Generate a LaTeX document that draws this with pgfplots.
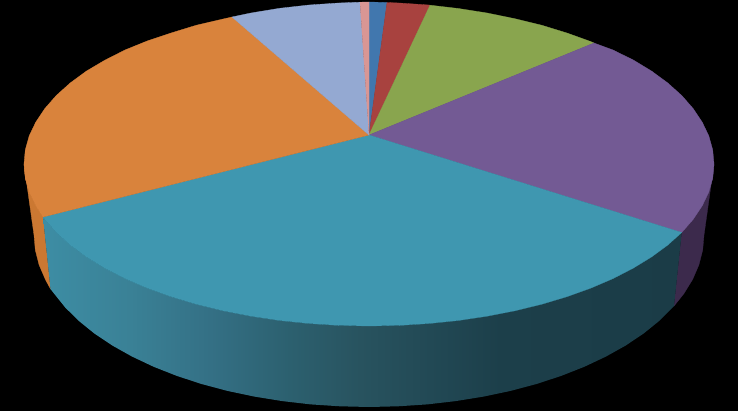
\documentclass[border=0pt]{standalone}
\usepackage{pgfplots}
\pgfplotsset{compat=1.18}
\definecolor{cblue}{HTML}{4177AE}
\definecolor{cred}{HTML}{A8423F}
\definecolor{cgreen}{HTML}{89A54E}
\definecolor{cpurple}{HTML}{735A94}
\definecolor{cteal}{HTML}{3F97B0}
\definecolor{corange}{HTML}{D9833C}
\definecolor{clight}{HTML}{94A9D2}
\definecolor{cpink}{HTML}{D99694}
\definecolor{worange}{HTML}{CB7832}
\definecolor{wpurple}{HTML}{3C2A4C}
\definecolor{wa}{HTML}{3D8DA4}
\definecolor{wb}{HTML}{3A8196}
\definecolor{wc}{HTML}{347085}
\definecolor{wd}{HTML}{2C606F}
\definecolor{we}{HTML}{28535F}
\definecolor{wf}{HTML}{224955}
\definecolor{wg}{HTML}{1C3F4A}
\definecolor{wh}{HTML}{1B3C47}
\pgfdeclarehorizontalshading{wall}{100bp}{color(0bp)=(wa); color(25bp)=(wa); color(31.8bp)=(wb); color(38.1bp)=(wc); color(44.3bp)=(wd); color(49.8bp)=(we); color(55.3bp)=(wf); color(60.8bp)=(wg); color(75bp)=(wh); color(100bp)=(wh)}
\begin{document}
\begin{tikzpicture}
\begin{axis}[scale only axis,width=738pt,height=411pt,xmin=0,xmax=738,ymin=0,ymax=411,y dir=reverse,hide axis]
\addplot[fill=black,draw=none] coordinates {(0,0)(738,0)(738,411)(0,411)} --cycle;
% walls
\addplot[fill=worange,draw=worange,line width=.3pt] coordinates {(43,217)(35.8,205.9)(29.2,192.1)(25.3,178.1)(24,164)(34,235)(35.3,250)(39.1,264.9)(45.4,279.5)(50.5,289)} --cycle;
\addplot[fill=wpurple,draw=wpurple,line width=.3pt] coordinates {(714,164)(712.7,178.1)(708.8,192.1)(702.2,205.9)(693.2,219.4)(681.7,232.5)(674,306)(683.8,293.8)(692.6,279.5)(698.9,264.9)(702.7,250)(704,235)} --cycle;
\addplot[draw=none,shading=wall] coordinates {(681.7,232.5)(667.8,245)(651.6,256.9)(633.3,268.1)(613,278.6)(590.8,288.1)(566.9,296.7)(541.5,304.3)(514.8,310.8)(487,316.2)(458.3,320.5)(428.9,323.5)(399.1,325.4)(369,326)(338.9,325.4)(309.1,323.5)(279.7,320.5)(251,316.2)(223.2,310.8)(196.5,304.3)(171.1,296.7)(147.2,288.1)(125,278.6)(104.7,268.1)(86.4,256.9)(70.2,245)(56.3,232.5)(44.8,219.4)(43,217)(50.5,289)(54.2,293.8)(65.4,307.7)(78.9,321)(94.6,333.7)(112.4,345.6)(132.1,356.6)(153.7,366.8)(176.8,375.9)(201.5,384)(227.4,390.9)(254.4,396.6)(282.3,401.1)(310.8,404.4)(339.8,406.3)(369,407)(398.2,406.3)(427.2,404.4)(455.7,401.1)(483.6,396.6)(510.6,390.9)(536.5,384)(561.2,375.9)(584.3,366.8)(605.9,356.6)(625.6,345.6)(643.4,333.7)(659.1,321)(674,306)} --cycle;
% top face
\addplot[fill=cblue,draw=cblue,line width=.3pt] coordinates {(369,135)(369,2)(387,2.5)} --cycle;
\addplot[fill=cred,draw=cred,line width=.3pt] coordinates {(369,135)(387,2.5)(399.1,3)(428.9,5)(430,5.2)} --cycle;
\addplot[fill=cgreen,draw=cgreen,line width=.3pt] coordinates {(369,135)(430,5.2)(458.3,8.5)(487,13)(514.8,18.7)(541.5,25.2)(566.9,33)(590.8,41.6)(594,43)} --cycle;
\addplot[fill=cpurple,draw=cpurple,line width=.3pt] coordinates {(369,135)(594,43)(613,50)(633.3,60)(651.6,71.1)(667.8,83)(681.7,95.5)(693.2,108.6)(702.2,122.1)(708.8,135.9)(712.7,149.9)(714,164)(712.7,178.1)(708.8,192.1)(702.2,205.9)(693.2,219.4)(681.7,232.5)} --cycle;
\addplot[fill=cteal,draw=cteal,line width=.3pt] coordinates {(369,135)(681.7,232.5)(667.8,245)(651.6,256.9)(633.3,268.1)(613,278.6)(590.8,288.1)(566.9,296.7)(541.5,304.3)(514.8,310.8)(487,316.2)(458.3,320.5)(428.9,323.5)(399.1,325.4)(369,326)(338.9,325.4)(309.1,323.5)(279.7,320.5)(251,316.2)(223.2,310.8)(196.5,304.3)(171.1,296.7)(147.2,288.1)(125,278.6)(104.7,268.1)(86.4,256.9)(70.2,245)(56.3,232.5)(44.8,219.4)(43,217)} --cycle;
\addplot[fill=corange,draw=corange,line width=.3pt] coordinates {(369,135)(43,217)(35.8,205.9)(29.2,192.1)(25.3,178.1)(24,164)(25.3,149.9)(29.2,135.9)(35.8,122.1)(44.8,108.6)(56.3,95.5)(70.2,83)(86.4,71.1)(104.7,60.3)(125,50)(147.2,41)(171.1,33)(196.5,25.2)(223.2,19)(232,17)} --cycle;
\addplot[fill=clight,draw=clight,line width=.3pt] coordinates {(369,135)(232,17)(251,13)(279.7,8.3)(309.1,5)(338.9,3)(360,2.2)} --cycle;
\addplot[fill=cpink,draw=cpink,line width=.3pt] coordinates {(369,135)(360,2.2)(369,2)} --cycle;
\end{axis}
\end{tikzpicture}
\end{document}
